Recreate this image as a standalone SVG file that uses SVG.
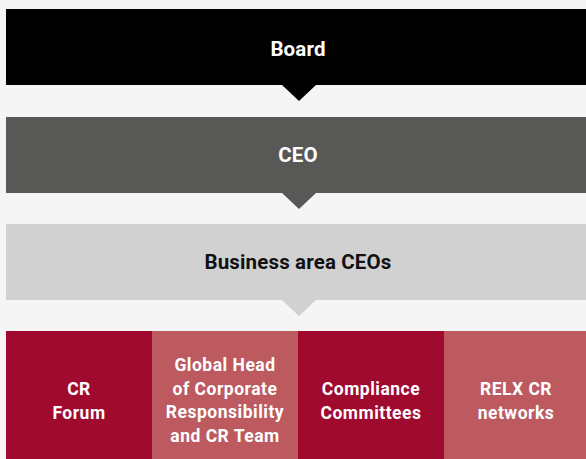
<svg xmlns="http://www.w3.org/2000/svg" width="586" height="459" viewBox="0 0 586 459">
  <style>
    .lbl { font-family: Roboto, "Liberation Sans", Arial, sans-serif; font-weight: bold; text-anchor: middle; }
    .title { font-size: 20.5px; letter-spacing: 0.15px; }
    .cell { font-size: 17.5px; letter-spacing: 0.5px; fill: #ffffff; }
    .white { fill: #ffffff; }
    .dark { fill: #111111; }
  </style>
  <rect x="0" y="0" width="586" height="459" fill="#f5f5f5"/>

  <g id="connectors">
    <polygon points="282,85 316,85 299,101" fill="#000000"/>
    <polygon points="282,193 316,193 299,209" fill="#585856"/>
    <polygon points="282,300 316,300 299,316" fill="#d1d1d1"/>
  </g>

  <g id="board">
    <rect x="6" y="9" width="580" height="76" fill="#000000"/>
    <text class="lbl title white" x="298" y="56">Board</text>
  </g>

  <g id="ceo">
    <rect x="6" y="117" width="580" height="76" fill="#585856"/>
    <text class="lbl title white" x="298" y="162">CEO</text>
  </g>

  <g id="business-area-ceos">
    <rect x="6" y="224" width="580" height="76" fill="#d1d1d1"/>
    <text class="lbl title dark" x="298" y="269">Business area CEOs</text>
  </g>

  <g id="cr-forum">
    <rect x="6" y="331" width="146" height="128" fill="#a10a2f"/>
    <text class="lbl cell" x="79" y="395">CR</text>
    <text class="lbl cell" x="79" y="419">Forum</text>
  </g>

  <g id="global-head">
    <rect x="152" y="331" width="146" height="128" fill="#bc5a5f"/>
    <text class="lbl cell" x="225" y="371">Global Head</text>
    <text class="lbl cell" x="225" y="395">of Corporate</text>
    <text class="lbl cell" x="225" y="418">Responsibility</text>
    <text class="lbl cell" x="225" y="442">and CR Team</text>
  </g>

  <g id="compliance-committees">
    <rect x="298" y="331" width="146" height="128" fill="#a10a2f"/>
    <text class="lbl cell" x="371" y="395">Compliance</text>
    <text class="lbl cell" x="371" y="419">Committees</text>
  </g>

  <g id="relx-cr-networks">
    <rect x="444" y="331" width="142" height="128" fill="#bc5a5f"/>
    <text class="lbl cell" x="516" y="395">RELX CR</text>
    <text class="lbl cell" x="516" y="419">networks</text>
  </g>
</svg>
